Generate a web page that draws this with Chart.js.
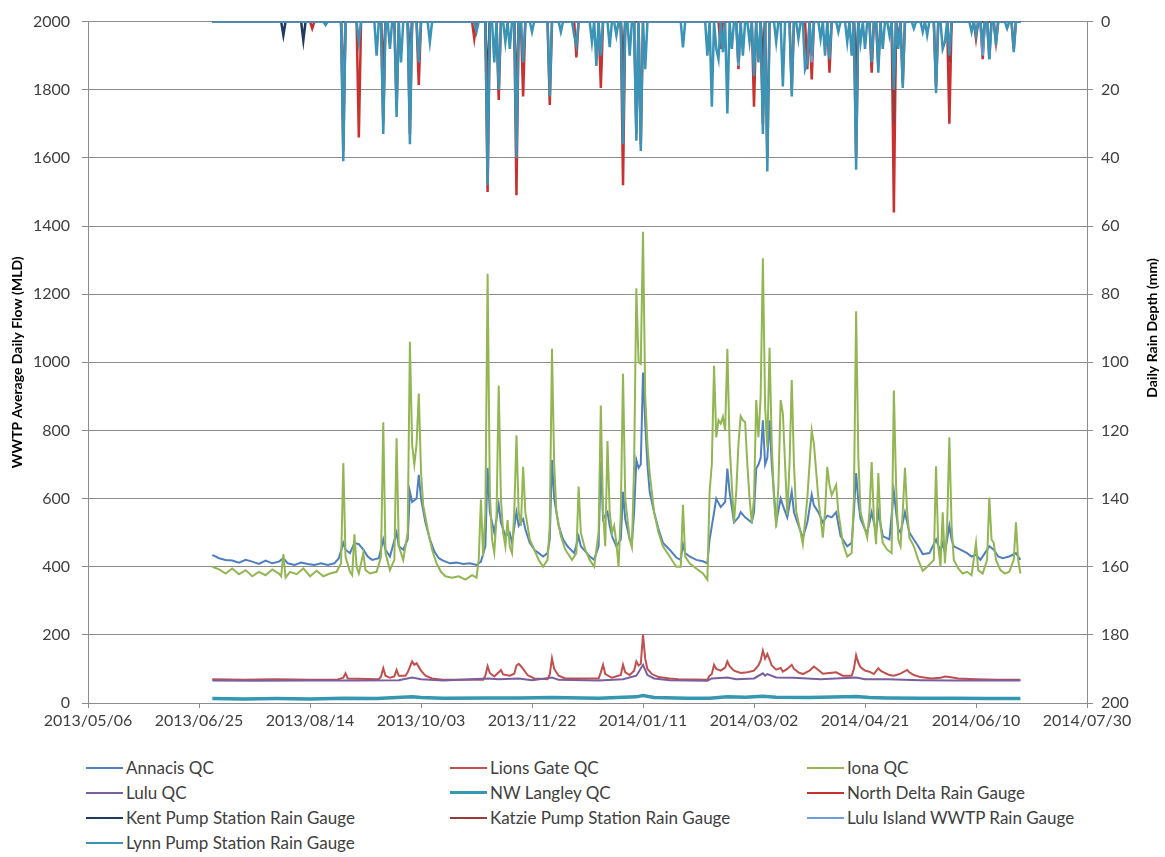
<!DOCTYPE html>
<html>
<head>
<meta charset="utf-8">
<script src="https://cdn.jsdelivr.net/npm/chart.js@4.4.1/dist/chart.umd.min.js"></script>
<style>
  body { margin: 0; background: #fff; font-family: Lato, sans-serif; }
  #wrap { position: relative; width: 1165px; height: 857px; }
  #legend {
    position: absolute; left: 86px; top: 755px;
    display: grid; grid-template-columns: 364px 357px 280px; grid-auto-rows: 25px;
  }
  .item { display: flex; align-items: center; font-size: 17px; color: #404040; white-space: nowrap; }
  .swatch { width: 37px; margin-right: 3px; }
</style>
</head>
<body>
<div id="wrap">
  <canvas id="flowChart" width="1165" height="745"></canvas>
  <div id="legend"></div>
</div>
<script>
// x values are days counted from the first axis date, 2013/05/06
const axisStart = Date.UTC(2013, 4, 6);
const firstDay = 56;  // 2013/07/01
const lastDay = 420;  // 2014/06/30

// WWTP flows (MLD), [day, value]
const annacis = [[56,435],[59,425],[62,420],[65,418],[68,412],[71,420],[74,415],[77,408],[80,418],[83,410],[86,415],[88,425],[90,410],[93,405],[96,412],[99,408],[102,405],[105,410],[108,405],[111,410],[113,425],[115,470],[116,450],[118,440],[120,470],[122,466],[124,450],[126,430],[128,420],[131,425],[133,480],[134,450],[136,430],[139,500],[140,460],[142,450],[144,480],[145,620],[146,590],[148,600],[149,670],[150,600],[152,530],[154,480],[156,445],[158,425],[160,418],[163,410],[166,412],[169,408],[172,410],[175,405],[177,415],[179,460],[180,690],[181,560],[183,500],[185,582],[186,530],[188,490],[190,500],[191,470],[193,560],[194,520],[196,540],[197,510],[199,470],[201,450],[203,440],[205,430],[207,440],[208,480],[209,713],[210,600],[212,520],[214,480],[216,460],[219,440],[221,489],[222,460],[224,445],[226,430],[228,420],[230,460],[231,710],[232,540],[234,560],[235,520],[236,490],[238,460],[240,480],[241,620],[242,540],[244,480],[245,470],[246,560],[247,713],[248,690],[249,700],[250,970],[251,820],[252,700],[253,620],[255,560],[257,510],[259,470],[262,450],[265,427],[267,420],[268,466],[269,440],[271,430],[274,420],[277,416],[279,410],[280,480],[282,559],[283,600],[285,575],[287,590],[288,688],[289,620],[291,530],[293,545],[294,560],[296,545],[299,530],[300,560],[301,688],[302,700],[303,720],[304,830],[305,700],[306,720],[307,830],[308,700],[310,530],[312,600],[313,580],[315,545],[317,620],[318,560],[319,540],[322,485],[324,530],[326,611],[327,580],[329,560],[331,530],[333,550],[335,545],[337,560],[339,490],[342,460],[344,470],[345,560],[346,675],[347,590],[348,540],[350,510],[351,500],[353,560],[355,500],[356,560],[358,490],[361,480],[363,620],[364,560],[365,510],[366,500],[368,560],[370,500],[372,480],[374,460],[376,437],[379,440],[382,480],[384,445],[385,470],[386,440],[388,520],[389,480],[390,460],[393,450],[396,440],[398,430],[400,435],[402,420],[404,440],[406,460],[408,450],[410,430],[412,425],[415,430],[418,440],[420,420]];

const iona = [[56,400],[59,392],[62,380],[65,395],[68,378],[71,390],[74,372],[77,385],[80,375],[83,392],[86,380],[87,372],[88,437],[89,368],[91,385],[94,378],[97,395],[100,372],[103,388],[106,372],[109,380],[112,385],[114,410],[115,704],[116,430],[118,385],[119,375],[120,495],[121,400],[122,380],[124,440],[125,390],[127,380],[130,385],[132,430],[133,824],[134,440],[136,390],[138,420],[139,777],[140,460],[142,420],[144,500],[145,1060],[146,760],[147,700],[148,760],[149,908],[150,680],[151,580],[153,510],[155,450],[157,410],[159,385],[161,372],[164,368],[167,372],[170,362],[173,375],[175,368],[176,420],[177,597],[178,430],[179,560],[180,1260],[181,620],[182,480],[183,442],[184,540],[185,932],[186,600],[187,500],[188,460],[189,537],[190,460],[191,440],[192,560],[193,786],[194,560],[195,520],[196,693],[197,560],[199,480],[201,450],[203,420],[205,400],[207,420],[208,520],[209,1040],[210,700],[211,560],[213,490],[215,450],[218,420],[220,440],[221,635],[222,500],[224,450],[226,420],[228,400],[230,500],[231,873],[232,560],[233,460],[234,769],[235,560],[236,500],[237,520],[238,470],[239,400],[240,560],[241,966],[242,600],[244,480],[245,457],[246,700],[247,1217],[248,1000],[249,995],[250,1383],[251,900],[252,760],[253,675],[255,560],[257,500],[259,460],[262,430],[265,400],[267,400],[268,582],[269,430],[271,410],[274,395],[277,380],[279,362],[280,620],[281,700],[282,990],[283,780],[284,830],[285,820],[286,840],[287,800],[288,1040],[289,760],[290,640],[291,530],[292,620],[293,760],[294,842],[295,830],[296,825],[297,700],[298,600],[299,530],[300,600],[301,889],[302,780],[303,900],[304,1305],[305,870],[306,750],[307,1043],[308,760],[309,600],[310,515],[311,640],[312,889],[313,850],[314,700],[315,553],[316,700],[317,948],[318,700],[319,563],[321,500],[322,466],[324,600],[326,800],[327,760],[329,600],[331,485],[332,560],[333,693],[334,640],[335,610],[337,640],[338,560],[340,470],[342,430],[344,440],[345,600],[346,1150],[347,720],[348,560],[350,509],[351,485],[352,560],[353,707],[354,540],[355,466],[356,675],[357,520],[358,470],[360,450],[362,440],[363,917],[364,640],[365,480],[366,460],[367,560],[368,690],[369,560],[370,485],[372,460],[374,420],[376,388],[378,400],[381,420],[382,695],[383,460],[384,400],[385,560],[386,410],[387,520],[388,780],[389,520],[390,420],[392,395],[394,380],[396,385],[398,375],[400,470],[401,390],[403,380],[405,420],[406,603],[407,480],[408,470],[409,420],[411,390],[413,380],[415,385],[417,420],[418,530],[419,420],[420,380]];

const lionsGate = [[56,70],[70,68],[85,70],[100,68],[112,68],[115,74],[116,87],[117,72],[131,70],[132,78],[133,102],[134,80],[136,74],[138,78],[139,97],[140,80],[143,80],[144,90],[146,122],[147,112],[148,117],[150,95],[152,80],[155,72],[160,68],[178,68],[179,80],[180,108],[181,88],[183,78],[185,90],[186,97],[187,84],[190,80],[192,86],[193,110],[194,115],[195,108],[196,100],[198,82],[201,72],[207,70],[208,84],[209,131],[210,100],[212,80],[215,72],[230,72],[231,90],[232,112],[233,85],[236,74],[240,82],[241,112],[242,90],[244,82],[246,95],[247,122],[248,110],[249,115],[250,200],[251,130],[252,100],[254,85],[257,76],[262,72],[266,70],[279,68],[280,80],[281,85],[282,112],[283,100],[285,95],[287,104],[288,122],[289,108],[291,95],[294,88],[297,90],[300,95],[302,110],[303,125],[304,154],[305,130],[306,144],[307,128],[308,110],[310,98],[312,103],[313,92],[315,100],[317,112],[318,100],[320,90],[322,85],[325,95],[327,107],[329,97],[331,86],[334,88],[337,90],[340,80],[344,80],[345,100],[346,140],[347,118],[348,105],[350,95],[352,92],[354,85],[356,102],[357,95],[359,88],[361,82],[363,80],[366,86],[369,97],[370,90],[372,82],[375,76],[380,72],[384,74],[386,78],[388,76],[392,72],[400,70],[410,68],[420,68]];

const lulu = [[56,66],[75,65],[100,66],[120,66],[140,67],[146,75],[150,70],[160,66],[180,72],[185,70],[194,72],[200,67],[209,75],[212,68],[230,66],[241,70],[247,80],[250,112],[252,82],[255,72],[262,67],[279,65],[281,72],[288,75],[292,70],[300,72],[304,87],[305,80],[306,85],[310,75],[318,74],[330,70],[346,75],[350,70],[360,70],[375,67],[390,66],[405,66],[420,66]];

const nwLangley = [[56,13],[70,12],[85,13],[100,12],[115,14],[130,13],[146,18],[150,16],[160,14],[180,15],[195,15],[209,16],[230,14],[247,18],[250,22],[255,16],[270,14],[280,14],[288,18],[296,17],[304,20],[310,17],[325,16],[346,19],[352,16],[360,15],[375,14],[390,14],[405,13],[420,13]];

// rain depth (mm), [day, value]; every other day in the record is 0
const northDeltaRain = [[101,2],[115,38],[122,34],[133,30],[139,25],[145,33],[149,18.6],[174,5],[180,50],[185,23],[193,51],[196,22],[208,24.5],[220,10.5],[231,19.5],[241,48],[247,33],[249,36],[285,8],[293,14],[300,25],[304,30],[306,40],[317,20],[324,14],[326,17],[334,15],[346,40],[353,15],[356,13],[363,56],[365,5],[367,18],[382,19],[388,30],[400,5],[403,11],[406,9],[409,6],[417,8]];
const kentRain = [[88,4],[97,5.5],[145,10],[180,20],[241,15],[304,12],[346,18]];
const katzieRain = [[115,20],[133,14],[180,30],[193,22],[241,25],[304,25],[346,30],[363,30],[388,12]];
const luluIslandRain = [[115,30],[145,20],[247,30],[293,13],[326,12],[403,10],[406,11]];
const lynnRain = [[107,1],[115,41],[122,6],[130,10],[133,33],[136,8],[139,28],[141,12],[145,36],[149,12],[154,6],[175,3],[180,48],[183,12],[185,20],[188,6],[190,8],[193,40],[196,12],[200,3],[208,22],[213,3],[219,4],[220,7],[227,6],[229,13],[231,10],[235,7.5],[238,4],[241,36],[244,10],[247,35],[249,38],[251,14],[268,7.6],[279,10],[281,25],[283,8],[284,11],[286,9],[288,27],[290,8],[293,12],[295,10],[298,6],[300,16],[302,12],[304,33],[306,44],[310,6],[313,19],[317,22],[320,5],[323,14],[324,12],[326,10],[330,5],[332,10],[334,11],[338,3],[342,6],[344,10],[346,43.5],[348,6],[350,8],[353,12],[356,15],[358,8],[361,4],[363,20],[365,8],[367,19.5],[372,2],[376,3],[378,4],[382,21],[385,8],[386,6],[388,10],[398,3],[400,4],[403,6],[406,11],[409,7],[414,2],[417,9]];

function toPoints(pairs) {
  return pairs.map(([x, y]) => ({ x, y }));
}

// fill the dry days of a gauge record with 0
function dailyRain(pairs) {
  const byDay = new Map(pairs);
  const pts = [];
  for (let d = firstDay; d <= lastDay; d++) pts.push({ x: d, y: byDay.get(d) || 0 });
  return pts;
}

function dayLabel(v) {
  const d = new Date(axisStart + v * 86400000);
  const mm = String(d.getUTCMonth() + 1).padStart(2, "0");
  const dd = String(d.getUTCDate()).padStart(2, "0");
  return `${d.getUTCFullYear()}/${mm}/${dd}`;
}

const series = [
  { label: "Annacis QC", data: toPoints(annacis), color: "#4f7fc0", width: 2 },
  { label: "Lions Gate QC", data: toPoints(lionsGate), color: "#c0504d", width: 2 },
  { label: "Iona QC", data: toPoints(iona), color: "#92b652", width: 2 },
  { label: "Lulu  QC", data: toPoints(lulu), color: "#7a5f9e", width: 2 },
  { label: "NW Langley QC", data: toPoints(nwLangley), color: "#3597b0", width: 3.5 },
  { label: "North Delta Rain Gauge", data: dailyRain(northDeltaRain), color: "#c8312e", width: 2.5, rain: true },
  { label: "Kent Pump Station Rain Gauge", data: dailyRain(kentRain), color: "#1f3a5f", width: 2.5, rain: true },
  { label: "Katzie Pump Station Rain Gauge", data: dailyRain(katzieRain), color: "#9b3a3a", width: 2.5, rain: true },
  { label: "Lulu Island WWTP Rain Gauge", data: dailyRain(luluIslandRain), color: "#6f9fd8", width: 2.5, rain: true },
  { label: "Lynn Pump Station Rain Gauge", data: dailyRain(lynnRain), color: "#3b93b6", width: 2.5, rain: true },
];

const rightTitle = {
  id: "rightTitle",
  afterDraw(chart) {
    const ctx = chart.ctx;
    ctx.save();
    ctx.translate(1152, 328);
    ctx.rotate(-Math.PI / 2);
    ctx.font = "bold 14px Lato";
    ctx.fillStyle = "#000";
    ctx.textAlign = "center";
    ctx.textBaseline = "middle";
    ctx.fillText("Daily Rain Depth (mm)", 0, 0);
    ctx.restore();
  },
};

const tickFont = { family: "Lato", size: 16 };
const gridColor = "#8c8c8c";

const chart = new Chart(document.getElementById("flowChart"), {
  type: "line",
  data: {
    datasets: series.map((s, i) => ({
      label: s.label,
      data: s.data,
      borderColor: s.color,
      backgroundColor: s.color,
      borderWidth: s.width,
      pointRadius: 0,
      tension: 0,
      yAxisID: s.rain ? "y2" : "y",
      order: series.length - i,
    })),
  },
  options: {
    responsive: false,
    animation: false,
    layout: { padding: { top: 16, left: 0, right: 0, bottom: 0 } },
    plugins: { legend: { display: false }, tooltip: { enabled: false } },
    scales: {
      x: {
        type: "linear",
        min: 0,
        max: 450,
        afterFit: (scale) => { scale.height = 42; },
        ticks: { stepSize: 50, callback: dayLabel, color: "#404040", font: tickFont, padding: 3, maxRotation: 0 },
        grid: { drawOnChartArea: false, drawTicks: true, tickLength: 5, color: gridColor },
        border: { color: gridColor },
      },
      y: {
        min: 0,
        max: 2000,
        afterFit: (scale) => { scale.width = 88; },
        ticks: { stepSize: 200, callback: (v) => String(v), color: "#404040", font: tickFont, padding: 12 },
        grid: { color: gridColor, tickLength: 6 },
        border: { color: gridColor },
        title: {
          display: true,
          text: "WWTP Average Daily Flow (MLD)",
          color: "#000",
          font: { family: "Lato", size: 14, weight: "bold" },
          padding: { top: 9, bottom: 0 },
        },
      },
      y2: {
        position: "right",
        reverse: true,
        min: 0,
        max: 200,
        afterFit: (scale) => { scale.width = 78; },
        ticks: { stepSize: 20, color: "#404040", font: tickFont, padding: 8 },
        grid: { drawOnChartArea: false, tickLength: 6, color: gridColor },
        border: { color: gridColor },
      },
    },
  },
  plugins: [rightTitle],
});

// legend laid out like the spreadsheet's three-column key
const legend = document.getElementById("legend");
chart.data.datasets.forEach((ds) => {
  const item = document.createElement("div");
  item.className = "item";
  const swatch = document.createElement("span");
  swatch.className = "swatch";
  swatch.style.borderTop = `${ds.borderWidth}px solid ${ds.borderColor}`;
  const text = document.createElement("span");
  text.textContent = ds.label;
  item.append(swatch, text);
  legend.appendChild(item);
});
</script>
</body>
</html>
